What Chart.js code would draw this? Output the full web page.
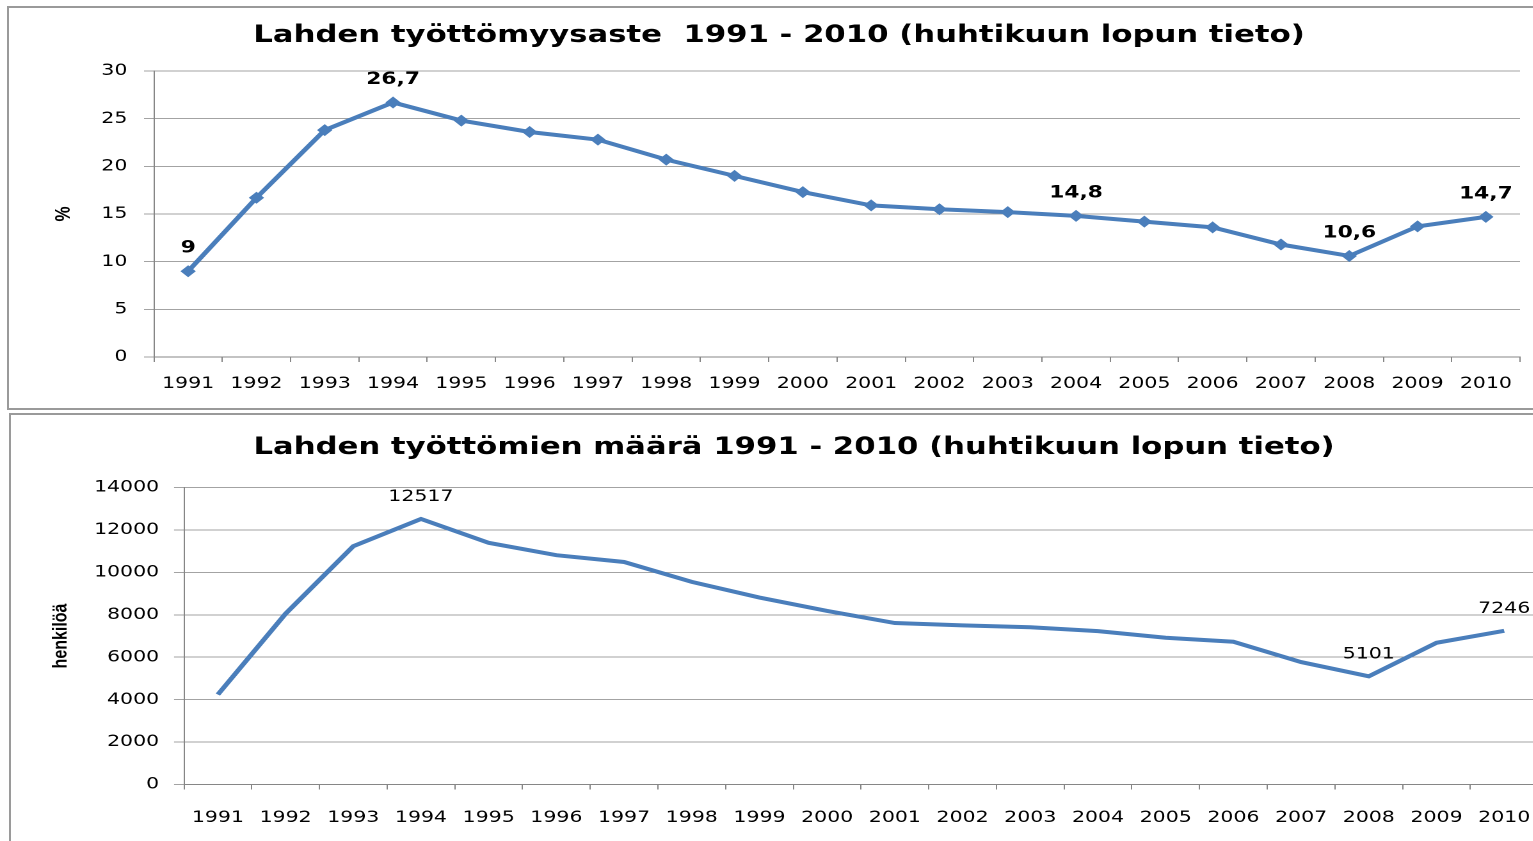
<!DOCTYPE html>
<html>
<head>
<meta charset="utf-8">
<script src="https://cdn.jsdelivr.net/npm/chart.js@4.4.1/dist/chart.umd.min.js"></script>
<style>
  html, body { margin: 0; padding: 0; background: #fff; }
  body { width: 1533px; height: 841px; overflow: hidden; position: relative; }
  .box { position: absolute; box-sizing: border-box; border: 2px solid #9a9a9a; }
  .wrap { position: absolute; left: 0; transform: scaleX(1.28); transform-origin: 0 0; }
</style>
</head>
<body>
<div class="box" style="left:7px; top:6px; width:1560px; height:404px;"></div>
<div class="box" style="left:9px; top:413px; width:1560px; height:460px;"></div>
<div class="wrap" style="top:8px; width:1198px; height:400px;"><canvas id="c1"></canvas></div>
<div class="wrap" style="top:415px; width:1230px; height:426px;"><canvas id="c2"></canvas></div>
<script>
// ---- data ----
const years = ['1991','1992','1993','1994','1995','1996','1997','1998','1999','2000',
               '2001','2002','2003','2004','2005','2006','2007','2008','2009','2010'];
const rateValues = [9, 16.7, 23.8, 26.7, 24.8, 23.6, 22.8, 20.7, 19.0, 17.3,
                    15.9, 15.5, 15.2, 14.8, 14.2, 13.6, 11.8, 10.6, 13.7, 14.7];
const countValues = [4240, 8050, 11230, 12517, 11390, 10810, 10490, 9550, 8810, 8180,
                     7610, 7500, 7410, 7230, 6920, 6730, 5770, 5101, 6680, 7246];
const rateLabelYears = ['1991', '1994', '2004', '2008', '2010'];
const countLabelYears = ['1994', '2008', '2010'];
const rateTicks = [0, 5, 10, 15, 20, 25, 30];
const countTicks = [0, 2000, 4000, 6000, 8000, 10000, 12000, 14000];
const title1 = 'Lahden työttömyysaste  1991 - 2010 (huhtikuun lopun tieto)';
const title2 = 'Lahden työttömien määrä 1991 - 2010 (huhtikuun lopun tieto)';

const BLUE = '#4A7EBB';
const GRID = '#a3a3a3';
const AXIS = '#868686';
const FONT = 'DejaVu Sans';

const pointLabels = {
  id: 'pointLabels',
  afterDatasetsDraw(chart, args, opts) {
    const meta = chart.getDatasetMeta(0);
    const data = chart.data.datasets[0].data;
    const ctx = chart.ctx;
    ctx.save();
    ctx.font = opts.font;
    ctx.fillStyle = '#000';
    ctx.textAlign = 'center';
    ctx.textBaseline = 'middle';
    opts.years.forEach(y => {
      const i = chart.data.labels.indexOf(y);
      const p = meta.data[i];
      ctx.fillText(opts.format(data[i]), p.x, p.y - opts.offset);
    });
    ctx.restore();
  }
};

function makeChart(id, cfg) {
  return new Chart(document.getElementById(id), {
    type: 'line',
    data: {
      labels: years,
      datasets: [{
        data: cfg.values,
        borderColor: BLUE,
        backgroundColor: BLUE,
        borderWidth: 4,
        pointStyle: 'rectRot',
        pointRadius: cfg.pointRadius,
        pointBorderWidth: 0,
        tension: 0
      }]
    },
    plugins: [pointLabels],
    options: {
      responsive: true,
      maintainAspectRatio: false,
      devicePixelRatio: 2,
      animation: false,
      layout: { padding: cfg.padding },
      plugins: {
        legend: { display: false },
        tooltip: { enabled: false },
        title: {
          display: true,
          text: cfg.title,
          color: '#000',
          font: { family: FONT, size: 24, weight: 'bold' },
          padding: cfg.titlePadding
        },
        pointLabels: {
          years: cfg.labelYears,
          font: cfg.labelFont,
          offset: cfg.labelOffset,
          format: cfg.format
        }
      },
      scales: {
        x: {
          offset: true,
          grid: { offset: true, drawOnChartArea: false, drawTicks: true, tickLength: 5, color: AXIS },
          border: { color: AXIS, width: 1 },
          ticks: { color: '#000', font: { family: FONT, size: 16 }, padding: cfg.xPad, maxRotation: 0, autoSkip: false },
          afterFit(s) { s.height = cfg.xHeight; }
        },
        y: {
          min: cfg.ticks[0],
          max: cfg.ticks[cfg.ticks.length - 1],
          afterBuildTicks(s) { s.ticks = cfg.ticks.map(v => ({ value: v })); },
          grid: { color: GRID, lineWidth: 1, tickLength: 7.8 },
          border: { color: AXIS, width: 1 },
          ticks: { color: '#000', font: { family: FONT, size: 16 }, padding: cfg.yPad, callback: v => String(v) },
          title: {
            display: true,
            text: cfg.yTitle,
            color: '#000',
            font: { family: 'Liberation Sans', size: cfg.yTitleSize, weight: 'bold' },
            padding: { top: cfg.yTitlePad, bottom: 0 }
          },
          afterFit(s) { s.width = cfg.yWidth; }
        }
      }
    }
  });
}

makeChart('c1', {
  values: rateValues,
  pointRadius: 6,
  title: title1,
  titlePadding: { top: 13.6, bottom: 20.6 },
  padding: { left: 29.7, right: 10.5, top: 0, bottom: 0 },
  labelYears: rateLabelYears,
  labelFont: 'bold 17px "DejaVu Sans"',
  labelOffset: 23,
  format: v => String(v).replace('.', ','),
  xPad: 12.4,
  xHeight: 51,
  ticks: rateTicks,
  yPad: 13,
  yTitle: '%',
  yTitleSize: 17,
  yTitlePad: 10,
  yWidth: 90.6
});

makeChart('c2', {
  values: countValues,
  pointRadius: 0,
  title: title2,
  titlePadding: { top: 18.6, bottom: 25.1 },
  padding: { left: 39, right: 28.4, top: 0, bottom: 0 },
  labelYears: countLabelYears,
  labelFont: '16px "DejaVu Sans"',
  labelOffset: 22,
  format: v => String(v),
  xPad: 18.9,
  xHeight: 56.5,
  ticks: countTicks,
  yPad: 11.6,
  yTitle: 'henkilöä',
  yTitleSize: 16,
  yTitlePad: -1,
  yWidth: 104.75
});
</script>
</body>
</html>
